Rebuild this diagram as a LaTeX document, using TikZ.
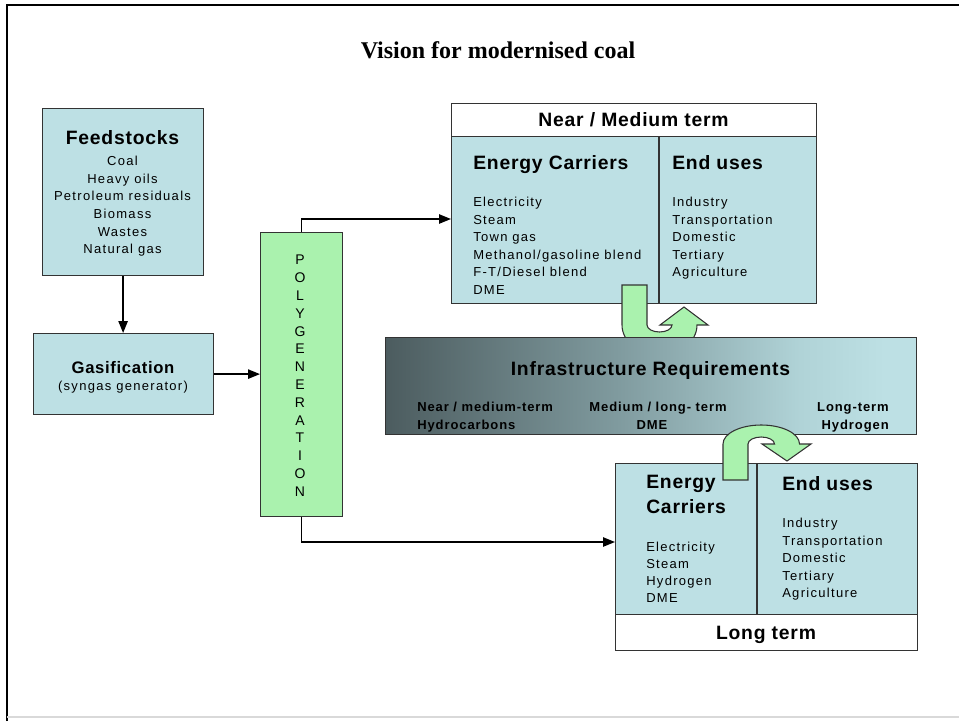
\documentclass[tikz,border=0pt]{standalone}
\usepackage{fontspec}
\setmainfont{Liberation Serif}
\newfontfamily\itemfont[LetterSpace=10]{Liberation Sans}
\newfontfamily\headfont[LetterSpace=4]{Liberation Sans}
\newfontfamily\infrafont[LetterSpace=7]{Liberation Sans}
\usepackage{xcolor}
\usetikzlibrary{positioning}
\usetikzlibrary{arrows.meta}
\definecolor{boxblue}{RGB}{189,224,228}
\definecolor{polygreen}{RGB}{170,242,174}
\definecolor{infradark}{RGB}{76,92,95}
\definecolor{inframid}{RGB}{128,155,159}
\definecolor{infralight}{RGB}{176,211,215}
\definecolor{edgegrey}{RGB}{51,51,51}
\pgfdeclarehorizontalshading{infrashade}{100bp}{color(0bp)=(infradark); color(25bp)=(infradark);
  color(47bp)=(inframid); color(64bp)=(infralight); color(72bp)=(boxblue); color(100bp)=(boxblue)}
\newcommand{\pxu}{0.75pt}
\tikzset{box/.style={draw=edgegrey, line width=0.9pt, fill=boxblue, anchor=north west, inner sep=0pt},
itemtxt/.style={inner sep=0pt, font=\itemfont\fontsize{9.75}{11}\selectfont},
headtxt/.style={inner sep=0pt, font=\headfont\bfseries\fontsize{14.5}{16}\selectfont},
conn/.style={line width=1.1pt, -{Triangle[length=9pt,width=7pt]}}}

\begin{document}
\begin{tikzpicture}[x=\pxu, y=-\pxu,
  bendarrow/.style={fill=polygreen, draw=edgegrey, line width=0.8pt},
  infratxt/.style={inner sep=0pt, font=\infrafont\bfseries\fontsize{9.75}{11}\selectfont}]
\useasboundingbox (0,0) rectangle (959,721);
% frame
\draw[line width=1.5pt] (7,721) -- (7,5) -- (959,5);
\draw[black!15, line width=1pt] (7,717) -- (959,717);
\node[inner sep=0pt, anchor=base, font=\bfseries\fontsize{18}{20}\selectfont] (title) at (498,58) {Vision for modernised coal};

% feedstocks and gasifier
\node[box, minimum width=161*\pxu, minimum height=167*\pxu] (feed) at (42,108) {};
\node[headtxt, anchor=base] (feedhead) at (122.5,144) {Feedstocks};
\foreach \f [count=\i from 0] in {Coal,Heavy oils,Petroleum residuals,Biomass,Wastes,Natural gas}
  \node[itemtxt, anchor=base] (feed-\i) at (122.5,{165.7+17.6*\i}) {\f};
\node[box, minimum width=180*\pxu, minimum height=81*\pxu] (gas) at (33,333) {};
\node[headtxt, anchor=base, font=\headfont\bfseries\fontsize{12.5}{14}\selectfont] (gashead) at (123,373) {Gasification};
\node[itemtxt, anchor=base] (gassub) at (123,390.5) {(syngas generator)};

% polygeneration column
\node[box, fill=polygreen, minimum width=82*\pxu, minimum height=284*\pxu] (poly) at (260,232) {};
\foreach \l [count=\i from 0] in {P,O,L,Y,G,E,N,E,R,A,T,I,O,N}
  \node[itemtxt, font=\itemfont\fontsize{10.5}{12}\selectfont] (poly-\i) at (300,{260+17.8*\i}) {\l};

% near / medium term
\node[box, minimum width=365*\pxu, minimum height=200*\pxu] (nearbox) at (451,103) {};
\node[box, fill=white, minimum width=365*\pxu, minimum height=33*\pxu] (nearhead) at (451,103) {};
\coordinate (neardiv) at (659,136);
\draw[draw=edgegrey, line width=0.9pt] (neardiv) -- (neardiv |- nearbox.south);
\node[headtxt, anchor=base] (neartitle) at (633.5,126) {Near / Medium term};
\node[headtxt, anchor=base west] (nearcarr) at (473,169) {Energy Carriers};
\node[headtxt, anchor=base west] (nearuses) at (672,169) {End uses};
\foreach \c [count=\i from 0] in {Electricity,Steam,Town gas,Methanol/gasoline blend,F-T/Diesel blend,DME}
  \node[itemtxt, anchor=base west] (nearc-\i) at (473,{206.7+17.5*\i}) {\c};
\foreach \e [count=\i from 0] in {Industry,Transportation,Domestic,Tertiary,Agriculture}
  \node[itemtxt, anchor=base west] (neare-\i) at (672,{206.7+17.5*\i}) {\e};
\filldraw[bendarrow] (622,285) -- (622,325) arc[start angle=180, end angle=0, x radius=37.5, y radius=30]
  -- (708,325) -- (684,307) -- (660,325) -- (672,325)
  arc[start angle=0, end angle=180, x radius=12.5, y radius=7] -- (647,285) -- cycle;

% infrastructure
\node[box, shade, shading=infrashade, minimum width=531*\pxu, minimum height=97*\pxu] (infra) at (385,337) {};
\node[headtxt, anchor=base] (infrahead) at (650.5,375) {Infrastructure Requirements};
\node[infratxt, anchor=base west] (infra-a) at (417,411) {Near / medium-term};
\node[infratxt, anchor=base west] (infra-b) at (417,429) {Hydrocarbons};
\node[infratxt, anchor=base] (infra-c) at (658,411) {Medium / long- term};
\node[infratxt, anchor=base] (infra-d) at (652,429) {DME};
\node[infratxt, anchor=base east] (infra-e) at (889,411) {Long-term};
\node[infratxt, anchor=base east] (infra-f) at (889,429) {Hydrogen};

% long term
\node[box, minimum width=302*\pxu, minimum height=187*\pxu] (longbox) at (615,463) {};
\node[box, fill=white, minimum width=302*\pxu, minimum height=36*\pxu] (longfoot) at (615,614) {};
\coordinate (longdiv) at (757,463);
\draw[draw=edgegrey, line width=0.9pt] (longdiv) -- (longdiv |- longfoot.north);
\node[headtxt, anchor=base west] (longcarr) at (646,488) {Energy};
\node[headtxt, anchor=base west] (longcarr2) at (646,513) {Carriers};
\node[headtxt, anchor=base west] (longuses) at (782,490) {End uses};
\foreach \c [count=\i from 0] in {Electricity,Steam,Hydrogen,DME}
  \node[itemtxt, anchor=base west] (longc-\i) at (646,{551+17.3*\i}) {\c};
\foreach \e [count=\i from 0] in {Industry,Transportation,Domestic,Tertiary,Agriculture}
  \node[itemtxt, anchor=base west] (longe-\i) at (782,{527.7+17.5*\i}) {\e};
\node[headtxt, anchor=base] (longtitle) at (766,639) {Long term};
\filldraw[bendarrow] (723,480) -- (723,444) arc[start angle=180, end angle=360, x radius=38.25, y radius=19]
  -- (811,444) -- (787,461) -- (762,444) -- (774.5,444)
  arc[start angle=0, end angle=-180, x radius=13.25, y radius=7] -- (748,480) -- cycle;

% connectors
\coordinate (nearin) at (451,219);
\coordinate (longin) at (615,542);
\draw[conn] (feed.south) -- (feed.south |- gas.north);
\draw[conn] (gas.east) -- (gas.east -| poly.west);
\draw[conn] (poly.north) |- (nearin);
\draw[conn] (poly.south) |- (longin);
\end{tikzpicture}
\end{document}
